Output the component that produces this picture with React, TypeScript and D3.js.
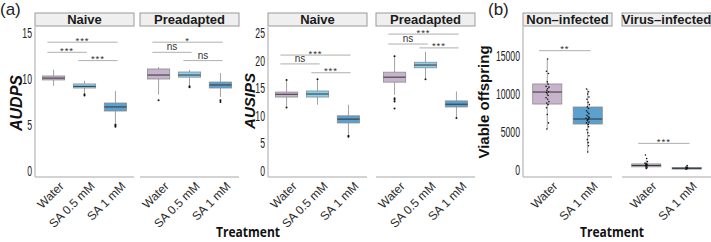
import * as d3 from "d3";

// box stats: [lower whisker, q1, median, q3, upper whisker]
type Stats = [number, number, number, number, number];

const treatmentsA = ["Water", "SA 0.5 mM", "SA 1 mM"];
const treatmentsB = ["Water", "SA 1 mM"];

const audpsNaive: Stats[] = [
  [9.25, 9.9, 10.1, 10.33, 11.0],
  [8.5, 9.02, 9.2, 9.46, 9.8],
  [5.2, 6.52, 6.96, 7.39, 8.7],
];
const audpsNaiveOut = [[], [8.2, 8.35], [4.8, 4.95, 5.05]];
const audpsPre: Stats[] = [
  [8.3, 10.0, 10.43, 11.09, 11.3],
  [9.35, 10.2, 10.43, 10.76, 11.0],
  [8.05, 9.02, 9.35, 9.67, 10.65],
];
const audpsPreOut = [[7.7], [9.1, 9.2], [7.5, 7.7]];

const ausipsNaive: Stats[] = [
  [11.7, 13.4, 13.9, 14.3, 16.3],
  [12.0, 13.4, 13.95, 14.5, 16.4],
  [6.6, 8.7, 9.4, 10.0, 12.0],
];
const ausipsNaiveOut = [[11.5, 16.5], [16.6], [6.2, 6.4]];
const ausipsPre: Stats[] = [
  [13.8, 16.1, 17.0, 17.9, 20.6],
  [16.8, 18.7, 19.2, 19.7, 21.6],
  [9.8, 11.6, 12.1, 12.7, 14.4],
];
const ausipsPreOut = [[13.2, 12.9, 12.6, 11.3, 20.8], [16.6], [9.6]];

const offspringNon: Stats[] = [
  [5400, 8680, 10260, 11320, 14600],
  [2370, 6050, 6710, 8290, 10660],
];
const offspringVirus: Stats[] = [
  [100, 420, 600, 800, 1300],
  [30, 120, 220, 330, 560],
];

// jittered raw counts and their horizontal offsets (fraction of the band)
const nonWater = [14600, 13000, 12700, 11600, 11300, 11000, 10900, 10700, 10500, 10300, 10200, 10000, 9800, 9500, 9300, 9000, 8800, 8600, 8200, 7300, 6200, 5400];
const nonWaterJit = [0.01, -0.02, 0.03, 0.0, 0.02, -0.03, 0.04, 0.01, -0.01, 0.03, -0.02, 0.0, 0.02, -0.03, 0.01, 0.04, -0.01, 0.02, -0.02, 0.0, 0.03, -0.01];
const nonSa = [10660, 10300, 10000, 9600, 9300, 8900, 8600, 8300, 8100, 7800, 7600, 7400, 7200, 7000, 6900, 6800, 6700, 6600, 6500, 6300, 6200, 6000, 5700, 5300, 4900, 4500, 4000, 3600, 3200, 2370];
const nonSaJit = [-0.03, 0.02, 0.0, 0.03, -0.02, 0.01, 0.04, -0.01, 0.02, -0.03, 0.0, 0.03, -0.02, 0.01, 0.04, -0.04, 0.02, 0.0, -0.01, 0.03, -0.03, 0.01, 0.02, -0.02, 0.0, 0.03, -0.01, 0.01, 0.02, 0.0];
const virWater = [1970, 1500, 1100, 900, 800, 750, 700, 650, 600, 550, 500, 400, 300, 200];
const virWaterJit = [-0.02, 0.01, 0.03, -0.03, 0.0, 0.02, -0.01, 0.01, -0.02, 0.03, 0.0, -0.01, 0.02, 0.0];
const virSa = [600, 400, 350, 300, 250, 200, 150, 100];
const virSaJit = [0.01, -0.02, 0.02, 0.0, -0.01, 0.02, 0.0, -0.02];

// significance brackets: [from index, to index, y value, label]
type Sig = [number, number, number, string];
const sigAudpsNaive: Sig[] = [[0, 2, 14.0, "***"], [0, 1, 12.9, "***"], [1, 2, 12.0, "***"]];
const sigAudpsPre: Sig[] = [[0, 2, 14.0, "*"], [0, 1, 12.9, "ns"], [1, 2, 12.0, "ns"]];
const sigAusipsNaive: Sig[] = [[0, 2, 21.0, "***"], [0, 1, 19.4, "ns"], [1, 2, 17.8, "***"]];
const sigAusipsPre: Sig[] = [[0, 2, 24.8, "***"], [0, 1, 23.0, "ns"], [1, 2, 22.3, "***"]];
const sigNon: Sig[] = [[0, 1, 15700, "**"]];
const sigVirus: Sig[] = [[0, 1, 3500, "***"]];

const fills: Record<string, string> = {
  Water: "#c7b4cc",
  "SA 0.5 mM": "#87d0f0",
  "SA 1 mM": "#5ba0cf",
};

const FONT = "'Liberation Sans', Arial, sans-serif";
const TOP = 27;
const BOTTOM = 177;
const STRIP_TOP = 13;

interface FacetProps {
  x0: number;
  x1: number;
  title: string;
  cats: string[];
  stats: Stats[];
  outliers?: number[][];
  points?: number[][];
  jitter?: number[][];
  sigs: Sig[];
  y: d3.ScaleLinear<number, number>;
  leftAxis?: boolean;
  ticks?: number[];
}

function Facet({ x0, x1, title, cats, stats, outliers, points, jitter, sigs, y, leftAxis, ticks }: FacetProps) {
  const x = d3.scalePoint<string>().domain(cats).range([x0, x1]).padding(0.6);
  const step = x.step();
  const bw = step * 0.72;
  return (
    <g>
      <rect x={x0} y={STRIP_TOP} width={x1 - x0} height={TOP - STRIP_TOP - 1} fill="#efefef" stroke="#9a9a9a" strokeWidth={1} />
      <text x={(x0 + x1) / 2} y={STRIP_TOP + 11} textAnchor="middle" fontFamily={FONT} fontWeight="bold" fontSize={13} fill="#1a1a1a">
        {title}
      </text>
      {leftAxis && <line x1={x0} x2={x0} y1={TOP} y2={BOTTOM} stroke="#c4c4c4" strokeWidth={1.5} />}
      <line x1={x0} x2={x1} y1={BOTTOM} y2={BOTTOM} stroke="#c4c4c4" strokeWidth={1.5} />
      {leftAxis &&
        ticks!.map((t) => (
          // narrow digits, as in the printed axis
          <text
            key={t}
            transform={`translate(${x0 - 3},${y(t)}) scale(0.62,1)`}
            dy="0.36em"
            textAnchor="end"
            fontFamily={FONT}
            fontSize={14}
            fill="#222"
          >
            {t}
          </text>
        ))}
      {cats.map((c, i) => {
        const cx = x(c)!;
        const [lo, q1, med, q3, hi] = stats[i];
        return (
          <g key={c}>
            <line x1={cx} x2={cx} y1={y(hi)} y2={y(q3)} stroke="#8a8a8a" strokeWidth={0.8} />
            <line x1={cx} x2={cx} y1={y(q1)} y2={y(lo)} stroke="#8a8a8a" strokeWidth={0.8} />
            <rect x={cx - bw / 2} y={y(q3)} width={bw} height={Math.max(y(q1) - y(q3), 1.5)} fill={fills[c]} stroke="#8c8c8c" strokeWidth={0.8} />
            <line x1={cx - bw / 2} x2={cx + bw / 2} y1={y(med)} y2={y(med)} stroke="#333" strokeWidth={1} />
            {(outliers?.[i] ?? []).map((v, k) => (
              <circle key={k} cx={cx} cy={y(v)} r={1} fill="#111" />
            ))}
            {(points?.[i] ?? []).map((v, k) => (
              <circle key={k} cx={cx + jitter![i][k] * step} cy={y(v)} r={0.8} fill="#111" />
            ))}
            <text
              transform={`translate(${cx + 5},${BOTTOM + 4}) rotate(-45)`}
              textAnchor="end"
              dy="0.7em"
              fontFamily={FONT}
              fontSize={12}
              fill="#2a2a2a"
            >
              {c}
            </text>
          </g>
        );
      })}
      {sigs.map(([a, b, v, lab], k) => {
        const xa = x(cats[a])! - step * 0.2;
        const xb = x(cats[b])! + step * 0.07;
        const ns = lab === "ns";
        return (
          <g key={k}>
            <line x1={xa} x2={xb} y1={y(v)} y2={y(v)} stroke="#9a9a9a" strokeWidth={0.8} />
            <text
              x={(xa + xb) / 2}
              y={ns ? y(v) - 2 : y(v) + 1.5}
              textAnchor="middle"
              fontFamily={FONT}
              fontSize={ns ? 10 : 9.5}
              letterSpacing={ns ? 0 : 1}
              fill="#333"
            >
              {lab}
            </text>
          </g>
        );
      })}
    </g>
  );
}

export default function App() {
  const yAudps = d3.scaleLinear().domain([0, 15]).range([171, 33]);
  const yAusips = d3.scaleLinear().domain([0, 25]).range([171, 33]);
  const yOff = d3.scaleLinear().domain([0, 15000]).range([170, 56]);

  return (
    <svg width={711} height={242} style={{ position: "absolute", left: 0, top: 0, background: "#fff" }}>
      <text x={0} y={15} fontFamily={FONT} fontSize={17} fill="#222">(a)</text>
      <text x={488} y={15} fontFamily={FONT} fontSize={17} fill="#222">(b)</text>

      <text transform="translate(22,103) rotate(-90)" textAnchor="middle" fontFamily={FONT} fontWeight="bold" fontStyle="italic" fontSize={16} fill="#111">
        AUDPS
      </text>
      <Facet x0={35} x1={134} title="Naive" cats={treatmentsA} stats={audpsNaive} outliers={audpsNaiveOut} sigs={sigAudpsNaive} y={yAudps} leftAxis ticks={[0, 5, 10, 15]} />
      <Facet x0={140} x1={239} title="Preadapted" cats={treatmentsA} stats={audpsPre} outliers={audpsPreOut} sigs={sigAudpsPre} y={yAudps} />

      <text transform="translate(255,101) rotate(-90)" textAnchor="middle" fontFamily={FONT} fontWeight="bold" fontStyle="italic" fontSize={15} fill="#111">
        AUSIPS
      </text>
      <Facet x0={268} x1={367} title="Naive" cats={treatmentsA} stats={ausipsNaive} outliers={ausipsNaiveOut} sigs={sigAusipsNaive} y={yAusips} leftAxis ticks={[0, 5, 10, 15, 20, 25]} />
      <Facet x0={376} x1={475} title="Preadapted" cats={treatmentsA} stats={ausipsPre} outliers={ausipsPreOut} sigs={sigAusipsPre} y={yAusips} />

      <text transform="translate(489,102) rotate(-90)" textAnchor="middle" fontFamily={FONT} fontWeight="bold" fontSize={15} fill="#111">
        Viable offspring
      </text>
      <Facet x0={523} x1={612} title="Non–infected" cats={treatmentsB} stats={offspringNon} points={[nonWater, nonSa]} jitter={[nonWaterJit, nonSaJit]} sigs={sigNon} y={yOff} leftAxis ticks={[0, 5000, 10000, 15000]} />
      <Facet x0={622} x1={711} title="Virus–infected" cats={treatmentsB} stats={offspringVirus} points={[virWater, virSa]} jitter={[virWaterJit, virSaJit]} sigs={sigVirus} y={yOff} />

      <text x={248} y={237} textAnchor="middle" fontFamily="'Open Sans', sans-serif" fontWeight="bold" fontSize={15} textLength={64} lengthAdjust="spacingAndGlyphs" fill="#111">
        Treatment
      </text>
      <text x={612} y={237} textAnchor="middle" fontFamily="'Open Sans', sans-serif" fontWeight="bold" fontSize={15} textLength={64} lengthAdjust="spacingAndGlyphs" fill="#111">
        Treatment
      </text>
    </svg>
  );
}
